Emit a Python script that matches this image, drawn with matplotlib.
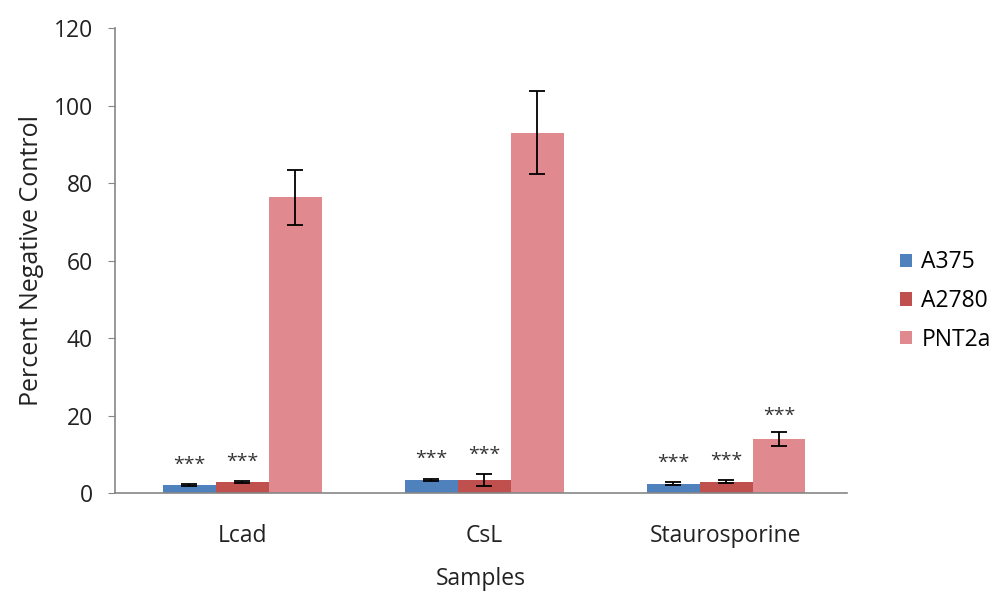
import matplotlib
matplotlib.use("Agg")
import matplotlib.pyplot as plt
import numpy as np

plt.rcParams['font.family'] = ['Open Sans', 'DejaVu Sans']

categories = ["Lcad", "CsL", "Staurosporine"]
series = ["A375", "A2780", "PNT2a"]
a375 = [2.0, 3.4, 2.4]
a375_err = [0.3, 0.3, 0.4]
a2780 = [2.8, 3.4, 2.9]
a2780_err = [0.3, 1.5, 0.4]
pnt2a = [76.3, 93.0, 13.9]
pnt2a_err = [7.1, 10.8, 1.8]
# significance markers per series/category
stars = [["***", "***", "***"],
         ["***", "***", "***"],
         ["", "", "***"]]

colors = ["#4F81BD", "#C0504D", "#E0898E"]
values = [a375, a2780, pnt2a]
errors = [a375_err, a2780_err, pnt2a_err]
text_col = '#222222'
fs = 16.5

fig = plt.figure(figsize=(10, 5.92), dpi=100)
ax = fig.add_axes([0.115, 0.1672, 0.732, 0.7855])

x = np.arange(len(categories))
w = 0.219
for i, (vals, errs, col, name) in enumerate(zip(values, errors, colors, series)):
    pos = x + (i - 1) * w
    ax.bar(pos, vals, width=w, color=col, label=name, zorder=2)
    ax.errorbar(pos, vals, yerr=errs, fmt='none', ecolor='black',
                elinewidth=1.3, capsize=6, capthick=1.3, zorder=3)
    for p, v, e, s in zip(pos, vals, errs, stars[i]):
        if s:
            off = 14 if v < 10 else 12
            ax.annotate(s, (p, v + e), xytext=(0, off), textcoords='offset points',
                        ha='center', va='center', fontsize=14, color='#333333')

ax.set_xlim(-0.525, 2.5)
ax.set_ylim(0, 120)
ax.set_yticks(np.arange(0, 121, 20))
ax.set_xticks(x)
ax.set_xticklabels(categories)
for sp in ['top', 'right']:
    ax.spines[sp].set_visible(False)
for sp in ['left', 'bottom']:
    ax.spines[sp].set_color('#868686')
    ax.spines[sp].set_linewidth(1.2)
ax.tick_params(axis='y', length=5, color='#868686', labelsize=fs, labelcolor=text_col, pad=11)
ax.tick_params(axis='x', length=0, labelsize=fs, labelcolor=text_col, pad=22)
ax.set_ylabel("Percent Negative Control", fontsize=18, color=text_col, labelpad=7)
ax.set_xlabel("Samples", fontsize=fs, color=text_col, labelpad=14)

fig.legend(loc='center left', bbox_to_anchor=(0.891, 0.4916), frameon=False,
           fontsize=fs, handlelength=0.52, handleheight=0.52, handletextpad=0.4,
           labelspacing=0.64, borderaxespad=0)

fig.savefig("out.png", dpi=100)
